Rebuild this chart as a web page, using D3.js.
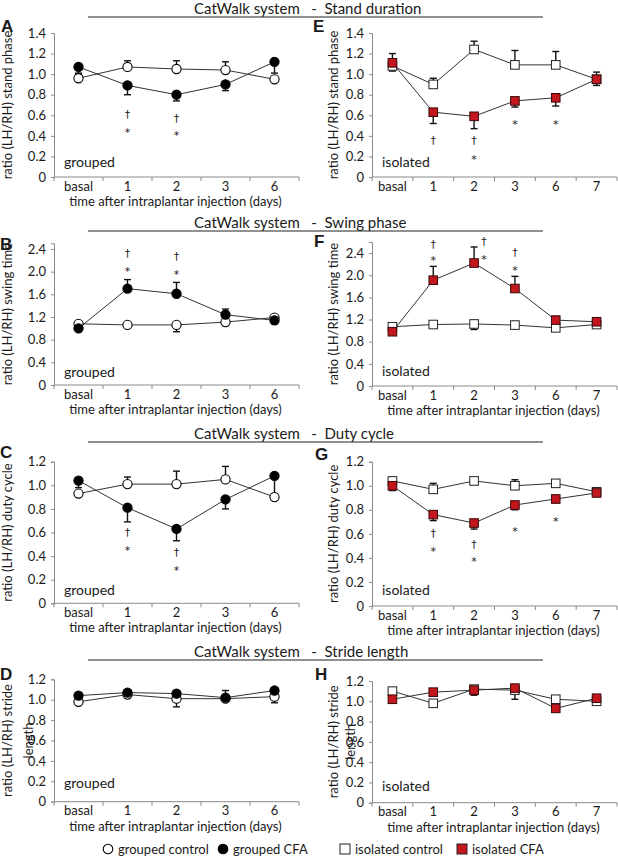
<!DOCTYPE html>
<html>
<head>
<meta charset="utf-8">
<script src="https://cdn.jsdelivr.net/npm/d3@7"></script>
<style>
  body { margin: 0; background: #fff; }
  text { font-family: Lato, "Open Sans", sans-serif; fill: #1a1a1a; }
</style>
</head>
<body>
<svg width="618" height="859"></svg>
<script>
// categories
var catsGrouped = ["basal", "1", "2", "3", "6"];
var catsIsolated = ["basal", "1", "2", "3", "6", "7"];

// stand duration
var standGroupedCtrl = [0.96, 1.07, 1.05, 1.04, 0.95];
var standGroupedCtrlErr = [0.04, 0.06, 0.08, 0.08, 0.02];
var standGroupedCfa = [1.07, 0.89, 0.80, 0.90, 1.12];
var standGroupedCfaErr = [-0.06, -0.09, -0.06, -0.06, -0.11];
var standIsoCtrl = [1.08, 0.90, 1.24, 1.09, 1.09, 0.95];
var standIsoCtrlErr = [0.12, 0.06, 0.08, 0.14, 0.13, 0.07];
var standIsoCfa = [1.11, 0.63, 0.59, 0.74, 0.77, 0.95];
var standIsoCfaErr = [-0.08, -0.11, -0.12, -0.06, -0.08, -0.06];

// swing phase
var swingGroupedCtrl = [1.08, 1.06, 1.06, 1.11, 1.19];
var swingGroupedCtrlErr = [0, 0, -0.12, 0, 0];
var swingGroupedCfa = [1.00, 1.70, 1.61, 1.24, 1.14];
var swingGroupedCfaErr = [0, 0.16, 0.20, 0.10, -0.06];
var swingIsoCtrl = [1.07, 1.11, 1.12, 1.10, 1.05, 1.11];
var swingIsoCtrlErr = [0, -0.04, -0.10, 0, 0, 0];
var swingIsoCfa = [0.98, 1.91, 2.22, 1.76, 1.19, 1.16];
var swingIsoCfaErr = [0, 0.25, 0.29, 0.22, 0, 0];

// duty cycle
var dutyGroupedCtrl = [0.93, 1.01, 1.01, 1.05, 0.90];
var dutyGroupedCtrlErr = [0, 0.06, 0.11, 0.11, 0];
var dutyGroupedCfa = [1.04, 0.81, 0.63, 0.88, 1.08];
var dutyGroupedCfaErr = [-0.06, -0.12, -0.10, -0.08, -0.15];
var dutyIsoCtrl = [1.04, 0.97, 1.04, 1.00, 1.02, 0.95];
var dutyIsoCtrlErr = [0, 0.05, 0, 0.05, 0.03, 0.02];
var dutyIsoCfa = [1.00, 0.76, 0.69, 0.84, 0.89, 0.94];
var dutyIsoCfaErr = [-0.04, -0.05, -0.05, -0.04, -0.03, -0.02];

// stride length
var strideGroupedCtrl = [0.98, 1.05, 1.01, 1.01, 1.03];
var strideGroupedCtrlErr = [0, 0.03, -0.08, 0.08, -0.06];
var strideGroupedCfa = [1.04, 1.07, 1.06, 1.02, 1.09];
var strideGroupedCfaErr = [0, 0, 0, 0, 0];
var strideIsoCtrl = [1.10, 0.98, 1.12, 1.11, 1.02, 1.00];
var strideIsoCtrlErr = [0, -0.03, 0, -0.09, 0, 0];
var strideIsoCfa = [1.02, 1.09, 1.11, 1.13, 0.93, 1.03];
var strideIsoCfaErr = [0, 0, -0.05, 0, 0, 0];

// significance marks: [category, value, symbol]
var standGroupedSig = [["1", 0.62, "†"], ["1", 0.47, "*"], ["2", 0.58, "†"], ["2", 0.44, "*"]];
var standIsoSig = [["1", 0.36, "†"], ["2", 0.36, "†"], ["2", 0.21, "*"], ["3", 0.55, "*"], ["6", 0.55, "*"]];
var swingGroupedSig = [["1", 2.33, "†"], ["1", 2.08, "*"], ["2", 2.28, "†"], ["2", 2.02, "*"]];
var swingIsoSig = [["1", 2.58, "†"], ["1", 2.33, "*"], ["2", 2.63, "†"], ["2", 2.36, "*"], ["3", 2.42, "†"], ["3", 2.15, "*"]];
var dutyGroupedSig = [["1", 0.61, "†"], ["1", 0.48, "*"], ["2", 0.44, "†"], ["2", 0.31, "*"]];
var dutyIsoSig = [["1", 0.61, "†"], ["1", 0.49, "*"], ["2", 0.52, "†"], ["2", 0.40, "*"], ["3", 0.65, "*"], ["6", 0.74, "*"]];

var ticks14 = [0, 0.2, 0.4, 0.6, 0.8, 1.0, 1.2, 1.4];
var ticks24 = [0, 0.4, 0.8, 1.2, 1.6, 2.0, 2.4];
var ticks12 = [0, 0.2, 0.4, 0.6, 0.8, 1.0, 1.2];

var rowTitles = ["Stand duration", "Swing phase", "Duty cycle", "Stride length"];
var red = "#c3171d";

var svg = d3.select("svg");

//////////// LAYOUT ////////////
var left = [54, 299], right = [372, 617];

var panels = [
  {id: "A", xr: left, cats: catsGrouped, ctrl: standGroupedCtrl, ctrlErr: standGroupedCtrlErr, cfa: standGroupedCfa, cfaErr: standGroupedCfaErr,
   shape: "circle", yMax: 1.4, y0: 177, y1: 33, ticks: ticks14, yTitle: ["ratio (LH/RH) stand phase"], label: "grouped", labelDy: 10, sig: standGroupedSig, xTitle: true, lx: 1, ly: 32},
  {id: "E", xr: right, cats: catsIsolated, ctrl: standIsoCtrl, ctrlErr: standIsoCtrlErr, cfa: standIsoCfa, cfaErr: standIsoCfaErr,
   shape: "square", yMax: 1.4, y0: 177, y1: 33, ticks: ticks14, yTitle: ["ratio (LH/RH) stand phase"], label: "isolated", labelDy: 10, sig: standIsoSig, xTitle: false, lx: 313, ly: 32},
  {id: "B", xr: left, cats: catsGrouped, ctrl: swingGroupedCtrl, ctrlErr: swingGroupedCtrlErr, cfa: swingGroupedCfa, cfaErr: swingGroupedCfaErr,
   shape: "circle", yMax: 2.5, y0: 385, y1: 243.3, ticks: ticks24, yTitle: ["ratio (LH/RH) swing time"], label: "grouped", labelDy: 8, sig: swingGroupedSig, xTitle: true, lx: 0, ly: 250},
  {id: "F", xr: right, cats: catsIsolated, ctrl: swingIsoCtrl, ctrlErr: swingIsoCtrlErr, cfa: swingIsoCfa, cfaErr: swingIsoCfaErr,
   shape: "square", yMax: 2.6, y0: 386, y1: 242, ticks: ticks24, yTitle: ["ratio (LH/RH) swing time"], label: "isolated", labelDy: 10, sig: swingIsoSig, xTitle: true, lx: 314, ly: 247},
  {id: "C", xr: left, cats: catsGrouped, ctrl: dutyGroupedCtrl, ctrlErr: dutyGroupedCtrlErr, cfa: dutyGroupedCfa, cfaErr: dutyGroupedCfaErr,
   shape: "circle", yMax: 1.2, y0: 603.3, y1: 461.7, ticks: ticks12, yTitle: ["ratio (LH/RH) duty cycle"], label: "grouped", labelDy: 8, sig: dutyGroupedSig, xTitle: true, lx: 0, ly: 458},
  {id: "G", xr: right, cats: catsIsolated, ctrl: dutyIsoCtrl, ctrlErr: dutyIsoCtrlErr, cfa: dutyIsoCfa, cfaErr: dutyIsoCfaErr,
   shape: "square", yMax: 1.2, y0: 606, y1: 461.7, ticks: ticks12, yTitle: ["ratio (LH/RH) duty cycle"], label: "isolated", labelDy: 11, sig: dutyIsoSig, xTitle: true, lx: 315, ly: 460},
  {id: "D", xr: left, cats: catsGrouped, ctrl: strideGroupedCtrl, ctrlErr: strideGroupedCtrlErr, cfa: strideGroupedCfa, cfaErr: strideGroupedCfaErr,
   shape: "circle", yMax: 1.2, y0: 801.7, y1: 679.3, ticks: ticks12, yTitle: ["ratio (LH/RH) stride", "length"], titleGap: 21, label: "grouped", labelDy: 14, sig: [], xTitle: true, lx: 0, ly: 680},
  {id: "H", xr: right, cats: catsIsolated, ctrl: strideIsoCtrl, ctrlErr: strideIsoCtrlErr, cfa: strideIsoCfa, cfaErr: strideIsoCfaErr,
   shape: "square", yMax: 1.2, y0: 802.7, y1: 681, ticks: ticks12, yTitle: ["ratio (LH/RH) stride", "length"], titleGap: 17, label: "isolated", labelDy: 12, sig: [], xTitle: true, lx: 315, ly: 680}
];

// row headers
var headerY = [14, 228, 439, 657];
rowTitles.forEach(function(t, i) {
  svg.append("text")
      .attr("x", 194).attr("y", headerY[i])
      .style("white-space", "pre")
      .style("font-size", "15px")
      .text("CatWalk system   -  " + t);
  svg.append("line")
      .attr("x1", 88).attr("x2", 543)
      .attr("y1", headerY[i] + 3).attr("y2", headerY[i] + 3)
      .attr("stroke", "#222").attr("stroke-width", 1.2);
});

panels.forEach(drawPanel);

function drawPanel(p) {
  var g = svg.append("g");
  var x = d3.scaleBand().domain(p.cats).range(p.xr);
  var y = d3.scaleLinear().domain([0, p.yMax]).range([p.y0, p.y1]);
  var cx = function(c) { return x(c) + x.bandwidth() / 2; };

  // y axis
  var yAxis = g.append("g")
      .attr("transform", "translate(" + p.xr[0] + ",0)")
      .call(d3.axisLeft(y).tickValues(p.ticks).tickSize(3).tickPadding(5)
        .tickFormat(function(d) { return d === 0 ? "0" : d3.format(".1f")(d); }));
  yAxis.select(".domain").attr("stroke", "#8a8a8a");
  yAxis.selectAll(".tick line").attr("stroke", "#8a8a8a");
  yAxis.selectAll(".tick text").style("font-size", "13px").attr("fill", "#1a1a1a");

  // x axis with ticks at the band boundaries
  var xAxis = g.append("g").attr("transform", "translate(0," + p.y0 + ")");
  xAxis.append("line")
      .attr("x1", p.xr[0]).attr("x2", p.xr[1])
      .attr("stroke", "#8a8a8a");
  xAxis.selectAll(".xt").data(p.cats.concat(["end"])).enter().append("line")
      .attr("x1", function(d, i) { return i < p.cats.length ? x(d) : p.xr[1]; })
      .attr("x2", function(d, i) { return i < p.cats.length ? x(d) : p.xr[1]; })
      .attr("y1", 0).attr("y2", 4)
      .attr("stroke", "#8a8a8a");
  xAxis.selectAll(".xl").data(p.cats).enter().append("text")
      .attr("x", cx).attr("y", 13.5)
      .attr("text-anchor", "middle")
      .style("font-size", "13px")
      .text(function(d) { return d; });
  if (p.xTitle) {
    xAxis.append("text")
        .attr("x", (p.xr[0] + p.xr[1]) / 2 - 1).attr("y", 29)
        .attr("text-anchor", "middle")
        .style("font-size", "13px")
        .text("time after intraplantar injection (days)");
  }

  // y title
  var ymid = (p.y0 + p.y1) / 2;
  var tx = p.xr[0] === left[0] ? 12 : 338;
  p.yTitle.forEach(function(t, i) {
    g.append("text")
        .attr("transform", "translate(" + (tx + i * (p.titleGap || 17)) + "," + ymid + ") rotate(-90)")
        .attr("text-anchor", "middle")
        .style("font-size", "13px")
        .text(t);
  });

  // panel letter + group label
  g.append("text")
      .attr("x", p.lx).attr("y", p.ly)
      .style("font-family", "'Liberation Sans', Arial, sans-serif")
      .style("font-weight", "bold").style("font-size", "17px")
      .attr("fill", "#000")
      .text(p.id);
  g.append("text")
      .attr("x", p.xr[0] + 10).attr("y", p.y0 - p.labelDy)
      .style("font-size", "14px")
      .text(p.label);

  var line = d3.line()
      .x(function(d, i) { return cx(p.cats[i]); })
      .y(function(d) { return y(d); });

  [p.ctrl, p.cfa].forEach(function(s) {
    g.append("path").datum(s)
        .attr("d", line)
        .attr("fill", "none").attr("stroke", "#333").attr("stroke-width", 1);
  });

  // error bars (one sided)
  [[p.ctrl, p.ctrlErr], [p.cfa, p.cfaErr]].forEach(function(pair) {
    var vals = pair[0], errs = pair[1];
    var eb = g.selectAll(null).data(vals.map(function(v, i) { return {c: p.cats[i], v: v, e: errs[i]}; })
        .filter(function(d) { return d.e !== 0; }))
      .enter().append("g");
    eb.append("line")
        .attr("x1", function(d) { return cx(d.c); }).attr("x2", function(d) { return cx(d.c); })
        .attr("y1", function(d) { return y(d.v); }).attr("y2", function(d) { return y(d.v + d.e); })
        .attr("stroke", "#111").attr("stroke-width", 1.4);
    eb.append("line")
        .attr("x1", function(d) { return cx(d.c) - 3.5; }).attr("x2", function(d) { return cx(d.c) + 3.5; })
        .attr("y1", function(d) { return y(d.v + d.e); }).attr("y2", function(d) { return y(d.v + d.e); })
        .attr("stroke", "#111").attr("stroke-width", 1.4);
  });

  // markers
  function drawMarkers(vals, ctrl) {
    var sel = g.selectAll(null).data(vals).enter();
    if (p.shape === "circle") {
      sel.append("circle")
          .attr("cx", function(d, i) { return cx(p.cats[i]); })
          .attr("cy", function(d) { return y(d); })
          .attr("r", 4.6)
          .attr("fill", ctrl ? "#fff" : "#000")
          .attr("stroke", "#000").attr("stroke-width", 1.1);
    } else {
      sel.append("rect")
          .attr("x", function(d, i) { return cx(p.cats[i]) - 4.3; })
          .attr("y", function(d) { return y(d) - 4.3; })
          .attr("width", 8.6).attr("height", 8.6)
          .attr("fill", ctrl ? "#fff" : red)
          .attr("stroke", ctrl ? "#222" : "#3a0a0a").attr("stroke-width", 1);
    }
  }
  drawMarkers(p.ctrl, true);
  drawMarkers(p.cfa, false);

  // significance marks
  g.selectAll(null).data(p.sig).enter().append("text")
      .attr("x", function(d) { return cx(d[0]) + (p.id === "F" && d[0] === "2" ? 10 : 0); })
      .attr("y", function(d) { return y(d[1]) + (d[2] === "*" ? 7.5 : 4.5); })
      .attr("text-anchor", "middle")
      .style("font-family", "'DejaVu Sans', sans-serif")
      .style("font-size", "11px")
      .attr("fill", "#1a1a1a")
      .text(function(d) { return d[2]; });
}

//////////// LEGEND ////////////
var legendItems = [
  {label: "grouped control", shape: "circle", fill: "#fff", x: 108},
  {label: "grouped CFA", shape: "circle", fill: "#000", x: 223},
  {label: "isolated control", shape: "square", fill: "#fff", x: 345},
  {label: "isolated CFA", shape: "square", fill: red, x: 462}
];
var lg = svg.append("g").attr("transform", "translate(0,849)");
legendItems.forEach(function(d) {
  if (d.shape === "circle") {
    lg.append("circle").attr("cx", d.x).attr("cy", 0).attr("r", 4.8)
        .attr("fill", d.fill).attr("stroke", "#000").attr("stroke-width", 1.1);
  } else {
    lg.append("rect").attr("x", d.x - 5).attr("y", -5).attr("width", 10).attr("height", 10)
        .attr("fill", d.fill).attr("stroke", "#222").attr("stroke-width", 1);
  }
  lg.append("text").attr("x", d.x + 10).attr("y", 4.5)
      .style("font-size", "13px")
      .text(d.label);
});
</script>
</body>
</html>
